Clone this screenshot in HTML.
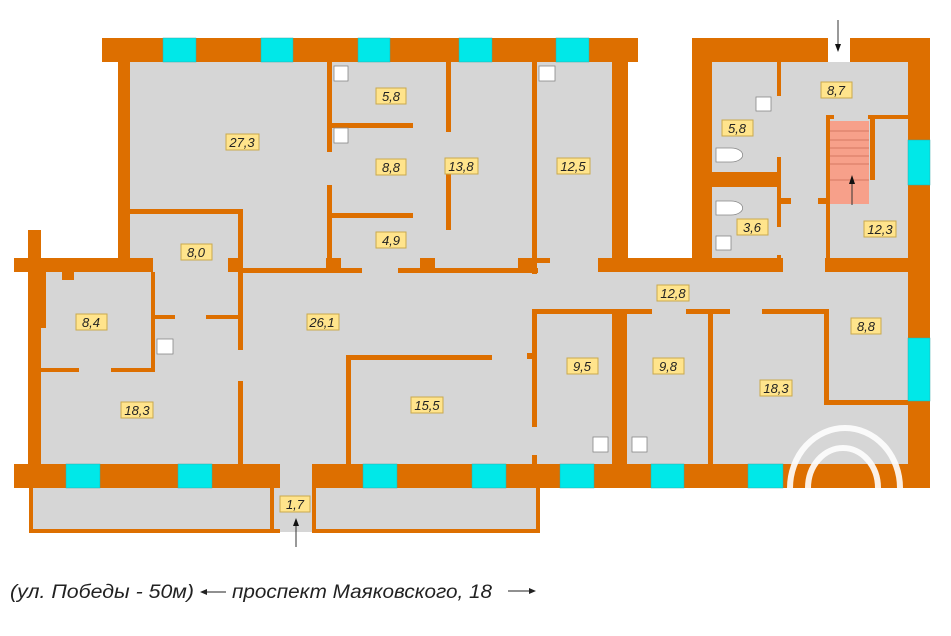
<!DOCTYPE html>
<html><head><meta charset="utf-8"><style>
html,body{margin:0;padding:0;background:#fff;width:951px;height:636px;overflow:hidden}
svg{display:block}
.l rect{fill:#FFE48C;stroke:#C9A94E;stroke-width:1}
.l text{font-family:"Liberation Sans",sans-serif;font-style:italic;font-size:13px;fill:#222;text-anchor:middle}
</style></head><body>
<svg width="951" height="636" viewBox="0 0 951 636" xmlns="http://www.w3.org/2000/svg">
<g fill="#D6D6D6">
<rect x="130" y="62" width="482" height="404"/>
<rect x="40" y="272" width="100" height="194"/>
<rect x="712" y="62" width="196" height="404"/>
<rect x="598" y="262" width="310" height="204"/>
<rect x="29" y="487" width="245" height="45"/>
<rect x="312" y="487" width="228" height="45"/>
<rect x="274" y="460" width="38" height="72"/>
</g>
<g fill="#DD6F00">
<rect x="102" y="38" width="536" height="24"/>
<rect x="692" y="38" width="136" height="24"/>
<rect x="850" y="38" width="80" height="24"/>
<rect x="118" y="62" width="12" height="210"/>
<rect x="14" y="258" width="139" height="14"/>
<rect x="28" y="230" width="13" height="250"/>
<rect x="14" y="464" width="266" height="24"/>
<rect x="312" y="464" width="618" height="24"/>
<rect x="908" y="38" width="22" height="450"/>
<rect x="692" y="62" width="20" height="210"/>
<rect x="612" y="62" width="16" height="210"/>
<rect x="598" y="258" width="185" height="14"/>
<rect x="825" y="258" width="83" height="14"/>
<rect x="29" y="487" width="4" height="46"/>
<rect x="29" y="529" width="251" height="4"/>
<rect x="270" y="487" width="4" height="46"/>
<rect x="312" y="487" width="4" height="46"/>
<rect x="312" y="529" width="228" height="4"/>
<rect x="536" y="487" width="4" height="46"/>
<rect x="327" y="62" width="5" height="90"/>
<rect x="327" y="185" width="5" height="85"/>
<rect x="327" y="123" width="86" height="5"/>
<rect x="327" y="213" width="86" height="5"/>
<rect x="446" y="62" width="5" height="70"/>
<rect x="446" y="164" width="5" height="66"/>
<rect x="532" y="62" width="5" height="212"/>
<rect x="240" y="268" width="122" height="5"/>
<rect x="398" y="268" width="140" height="5"/>
<rect x="228" y="258" width="14" height="14"/>
<rect x="326" y="258" width="15" height="14"/>
<rect x="420" y="258" width="15" height="14"/>
<rect x="518" y="258" width="15" height="14"/>
<rect x="536" y="258" width="14" height="5"/>
<rect x="130" y="209" width="113" height="5"/>
<rect x="238" y="209" width="5" height="141"/>
<rect x="238" y="381" width="5" height="84"/>
<rect x="151" y="272" width="4" height="100"/>
<rect x="41" y="368" width="38" height="4"/>
<rect x="111" y="368" width="44" height="4"/>
<rect x="41" y="272" width="5" height="56"/>
<rect x="62" y="272" width="12" height="8"/>
<rect x="155" y="315" width="20" height="4"/>
<rect x="206" y="315" width="34" height="4"/>
<rect x="346" y="355" width="146" height="5"/>
<rect x="346" y="355" width="5" height="110"/>
<rect x="532" y="309" width="80" height="5"/>
<rect x="532" y="309" width="5" height="118"/>
<rect x="532" y="455" width="5" height="10"/>
<rect x="527" y="353" width="6" height="6"/>
<rect x="612" y="309" width="15" height="156"/>
<rect x="627" y="309" width="25" height="5"/>
<rect x="686" y="309" width="44" height="5"/>
<rect x="708" y="309" width="5" height="156"/>
<rect x="762" y="309" width="66" height="5"/>
<rect x="824" y="309" width="5" height="96"/>
<rect x="824" y="400" width="84" height="5"/>
<rect x="777" y="62" width="4" height="34"/>
<rect x="777" y="157" width="4" height="70"/>
<rect x="712" y="172" width="69" height="15"/>
<rect x="781" y="198" width="10" height="6"/>
<rect x="777" y="255" width="4" height="5"/>
<rect x="826" y="115" width="4" height="145"/>
<rect x="818" y="198" width="10" height="6"/>
<rect x="826" y="115" width="8" height="4"/>
<rect x="868" y="115" width="40" height="4"/>
<rect x="870" y="115" width="5" height="65"/>
</g>
<rect x="830" y="121" width="39" height="83" fill="#F7A08A"/>
<g stroke="#C86A55" stroke-width="0.8">
<line x1="830" y1="131" x2="869" y2="131"/><line x1="830" y1="140" x2="869" y2="140"/>
<line x1="830" y1="148" x2="869" y2="148"/><line x1="830" y1="156" x2="869" y2="156"/>
<line x1="830" y1="164" x2="869" y2="164"/><line x1="830" y1="180" x2="869" y2="180"/>
</g>
<line x1="852" y1="205" x2="852" y2="178" stroke="#333" stroke-width="1"/>
<polygon points="852,175 849,184 855,184" fill="#111"/>
<g fill="#00E8E8" stroke="#33AAAA" stroke-width="0.5">
<rect x="163" y="38" width="33" height="24"/><rect x="261" y="38" width="32" height="24"/>
<rect x="358" y="38" width="32" height="24"/><rect x="459" y="38" width="33" height="24"/>
<rect x="556" y="38" width="33" height="24"/>
<rect x="66" y="464" width="34" height="24"/><rect x="178" y="464" width="34" height="24"/>
<rect x="363" y="464" width="34" height="24"/><rect x="472" y="464" width="34" height="24"/>
<rect x="560" y="464" width="34" height="24"/><rect x="651" y="464" width="33" height="24"/>
<rect x="748" y="464" width="35" height="24"/>
<rect x="908" y="140" width="22" height="45"/><rect x="908" y="338" width="22" height="63"/>
</g>
<g fill="#fff" stroke="#888" stroke-width="0.8">
<rect x="334" y="66" width="14" height="15"/><rect x="334" y="128" width="14" height="15"/>
<rect x="539" y="66" width="16" height="15"/><rect x="756" y="97" width="15" height="14"/>
<rect x="716" y="236" width="15" height="14"/><rect x="157" y="339" width="16" height="15"/>
<rect x="593" y="437" width="15" height="15"/><rect x="632" y="437" width="15" height="15"/>
<path d="M716 148 h15 a10 6 0 0 1 0 14 h-15 z"/><path d="M716 201 h15 a10 6 0 0 1 0 14 h-15 z"/>
</g>
<line x1="838" y1="20" x2="838" y2="48" stroke="#333"/><polygon points="838,52 835,44 841,44" fill="#111"/>
<line x1="296" y1="547" x2="296" y2="522" stroke="#333"/><polygon points="296,518 293,526 299,526" fill="#111"/>
<g fill="none" stroke="#fff" stroke-width="6" opacity="0.9">
<path d="M790 488 A55 60 0 0 1 900 488"/>
<path d="M808 488 A35 40 0 0 1 878 488"/>
</g>
<g class="l">
<rect x="226" y="134" width="33" height="16"/><text x="242" y="147">27,3</text>
<rect x="376" y="88" width="30" height="16"/><text x="391" y="101">5,8</text>
<rect x="376" y="159" width="30" height="16"/><text x="391" y="172">8,8</text>
<rect x="445" y="158" width="33" height="16"/><text x="461" y="171">13,8</text>
<rect x="557" y="158" width="33" height="16"/><text x="573" y="171">12,5</text>
<rect x="181" y="244" width="31" height="16"/><text x="196" y="257">8,0</text>
<rect x="376" y="232" width="30" height="16"/><text x="391" y="245">4,9</text>
<rect x="76" y="314" width="31" height="16"/><text x="91" y="327">8,4</text>
<rect x="307" y="314" width="32" height="16"/><text x="322" y="327">26,1</text>
<rect x="121" y="402" width="32" height="16"/><text x="137" y="415">18,3</text>
<rect x="411" y="397" width="32" height="16"/><text x="427" y="410">15,5</text>
<rect x="567" y="358" width="31" height="16"/><text x="582" y="371">9,5</text>
<rect x="653" y="358" width="31" height="16"/><text x="668" y="371">9,8</text>
<rect x="760" y="380" width="32" height="16"/><text x="776" y="393">18,3</text>
<rect x="851" y="318" width="30" height="16"/><text x="866" y="331">8,8</text>
<rect x="657" y="285" width="32" height="16"/><text x="673" y="298">12,8</text>
<rect x="722" y="120" width="31" height="16"/><text x="737" y="133">5,8</text>
<rect x="821" y="82" width="31" height="16"/><text x="836" y="95">8,7</text>
<rect x="737" y="219" width="31" height="16"/><text x="752" y="232">3,6</text>
<rect x="864" y="221" width="32" height="16"/><text x="880" y="234">12,3</text>
<rect x="280" y="496" width="30" height="16"/><text x="295" y="509">1,7</text>
</g>
<text x="10" y="598" font-family="Liberation Sans, sans-serif" font-style="italic" font-size="19" fill="#222" textLength="184" lengthAdjust="spacingAndGlyphs">(ул. Победы - 50м)</text>
<line x1="203" y1="592" x2="226" y2="592" stroke="#222"/><polygon points="200,592 207,589 207,595" fill="#222"/>
<text x="232" y="598" font-family="Liberation Sans, sans-serif" font-style="italic" font-size="19" fill="#222" textLength="260" lengthAdjust="spacingAndGlyphs">проспект Маяковского, 18</text>
<line x1="508" y1="591" x2="532" y2="591" stroke="#222"/><polygon points="536,591 529,588 529,594" fill="#222"/>
</svg>
</body></html>
